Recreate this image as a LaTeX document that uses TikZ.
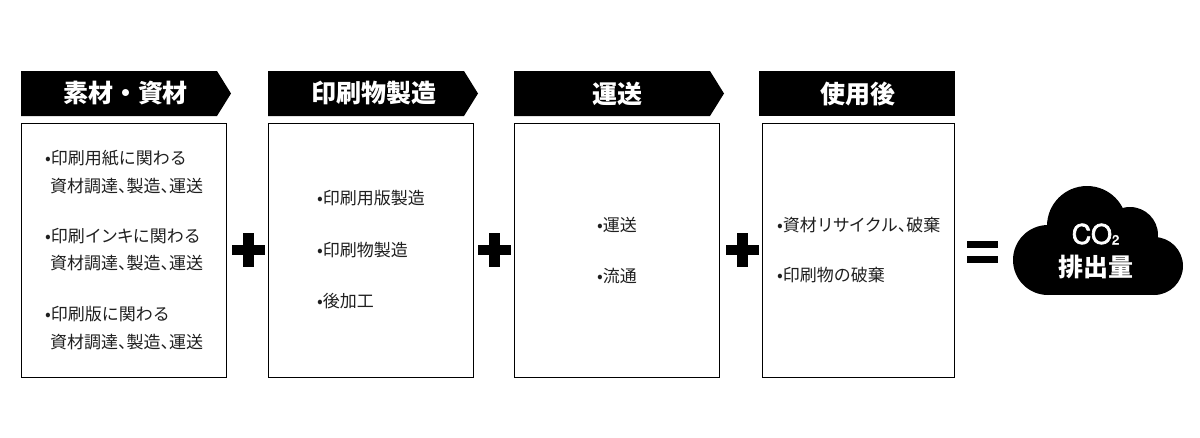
\documentclass[tikz,border=0pt]{standalone}
\usepackage{fontspec}
\setmainfont{Noto Sans CJK JP}
\newfontfamily\bodyjp{Noto Sans CJK JP}
\newfontfamily\latinhead[FakeBold=2.5]{TeX Gyre Heros}
\newcommand{\nc}{、\hspace{-0.5em}}
\newcommand{\kn}{\hspace{-0.06em}}
\tikzset{
  hdr/.style={fill=black,draw=none},
  hdrtext/.style={text=white,inner sep=0pt,font=\fontsize{25}{25}\selectfont\bfseries,anchor=center},
  panel/.style={draw=black,line width=1pt,fill=white},
  item/.style={inner sep=0pt,anchor=base west,text=black!88,font=\bodyjp\fontsize{17}{17}\selectfont},
  blackmark/.style={fill=black,draw=none},
  cloudtext/.style={text=white,inner sep=0pt,anchor=center},
}
\begin{document}
\begin{tikzpicture}[x=1pt,y=-1pt]
\useasboundingbox (0,0) rectangle (1200,437);
% headers
\fill[hdr] (21,71) -- (217,71) -- (231,93.5) -- (217,116) -- (21,116) -- cycle;
\fill[hdr] (268,71) -- (464,71) -- (478,93.5) -- (464,116) -- (268,116) -- cycle;
\fill[hdr] (514,71) -- (710,71) -- (724,93.5) -- (710,116) -- (514,116) -- cycle;
\fill[hdr] (759,71) rectangle (955,116);
\node[hdrtext] (h1) at (125.5,93.5) {素材・資材};
\node[hdrtext] (h2) at (373.5,93.5) {印刷物製造};
\node[hdrtext] (h3) at (617,93.5) {運送};
\node[hdrtext] (h4) at (857.5,93.5) {使用後};
% panels
\draw[panel] (21.5,123.5) rectangle (226.5,377);
\draw[panel] (268,123.5) rectangle (473.5,377);
\draw[panel] (514.5,123.5) rectangle (719.5,377);
\draw[panel] (762,123.5) rectangle (954.5,377);
% panel 1
\node[item] (a1) at (45,164) {•印刷用紙に関わる};
\node[item] (a2) at (50,192) {資材調達\nc 製造\nc 運送};
\node[item] (a3) at (45,242) {•印刷イ\kn ン\kn キ\kn に関わる};
\node[item] (a4) at (50,269) {資材調達\nc 製造\nc 運送};
\node[item] (a5) at (45,320) {•印刷版に関わる};
\node[item] (a6) at (50,348) {資材調達\nc 製造\nc 運送};
% panel 2
\node[item] (b1) at (317,204) {•印刷用版製造};
\node[item] (b2) at (317,256) {•印刷物製造};
\node[item] (b3) at (317,307) {•後加工};
% panel 3
\node[item] (c1) at (597,231) {•運送};
\node[item] (c2) at (597,282) {•流通};
% panel 4
\node[item] (d1) at (777,231) {•資材リ\kn サ\kn イ\kn ク\kn ル\nc 破棄};
\node[item] (d2) at (777,281) {•印刷物の破棄};
% plus signs
\foreach \cx in {248,494.5,742}{
  \fill[blackmark] (\cx-16.5,245) rectangle (\cx+16.5,255);
  \fill[blackmark] (\cx-5.5,233) rectangle (\cx+5.5,267);
}
% equals
\fill[blackmark] (967,241) rectangle (998,248);
\fill[blackmark] (967,255.5) rectangle (998,263);
% cloud
\fill[black] (1087,226) circle[radius=40];
\fill[black] (1130,235) circle[radius=28];
\fill[black] (1048,260) circle[radius=35];
\fill[black] (1154,266) circle[radius=29];
\fill[black] (1048,235) rectangle (1154,295);
\node[cloudtext,font=\latinhead\fontsize{27}{27}\selectfont] (co) at (1095.5,234) {CO\raisebox{-0.5pt}{\fontsize{13}{13}\selectfont 2}};
\node[cloudtext,font=\fontsize{25}{25}\selectfont\bfseries] (em) at (1096,267) {排出量};
\end{tikzpicture}
\end{document}
